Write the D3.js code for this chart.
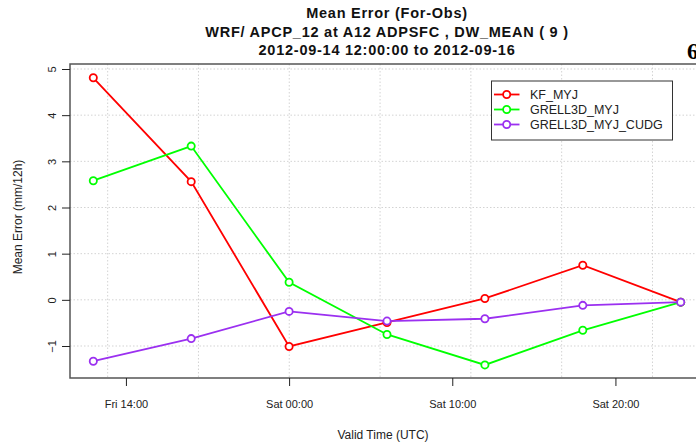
<!DOCTYPE html>
<html>
<head>
<meta charset="utf-8">
<script src="https://cdn.jsdelivr.net/npm/d3@7"></script>
<style>
  html, body { margin: 0; padding: 0; background: #fff; }
  svg { display: block; font-family: "Liberation Sans", Arial, sans-serif; }
</style>
</head>
<body>
<svg id="chart" width="696" height="443"></svg>
<script>
// Valid times (6-hourly, UTC) and mean error per model run
const validTimes = [
  "2012-09-14T12:00:00Z", "2012-09-14T18:00:00Z", "2012-09-15T00:00:00Z",
  "2012-09-15T06:00:00Z", "2012-09-15T12:00:00Z", "2012-09-15T18:00:00Z",
  "2012-09-16T00:00:00Z"
];
const kfMyj      = [4.81, 2.56, -1.01, -0.49, 0.03, 0.75, -0.05];
const grellMyj   = [2.58, 3.33, 0.38, -0.75, -1.41, -0.66, -0.05];
const grellCudg  = [-1.33, -0.84, -0.25, -0.46, -0.41, -0.12, -0.05];

const seriesNames  = ["KF_MYJ", "GRELL3D_MYJ", "GRELL3D_MYJ_CUDG"];
const seriesColors = ["#ff0000", "#00ff00", "#9b30f0"];

// Axis ticks
const xTickTimes = ["2012-09-14T14:00:00Z", "2012-09-15T00:00:00Z",
                    "2012-09-15T10:00:00Z", "2012-09-15T20:00:00Z"];
const yTickValues = [-1, 0, 1, 2, 3, 4, 5];

const titleLines = [
  "Mean Error (For-Obs)",
  "WRF/ APCP_12 at A12 ADPSFC ,  DW_MEAN ( 9 )",
  "2012-09-14 12:00:00 to 2012-09-16"
];

const svg = d3.select("#chart");
const times = validTimes.map(t => new Date(t));

const x = d3.scaleUtc().domain([times[0], times[times.length - 1]]).range([93.3, 680.7]);
const y = d3.scaleLinear().domain([-1, 5]).range([346, 69]);

const box = { left: 70, top: 64, right: 720, bottom: 378 };

// Dotted background grid: evenly spaced vertical rules, horizontal rules at y ticks
const hour = 3600 * 1000;
const gridStart = +times[0] + 0.88 * hour;
const gridStep = 5.565 * hour;
const gridX = d3.range(0, 8).map(k => new Date(gridStart + k * gridStep));
svg.append("g").selectAll("line").data(gridX).join("line")
  .attr("x1", d => x(d)).attr("x2", d => x(d))
  .attr("y1", box.top).attr("y2", box.bottom)
  .attr("stroke", "#d3d3d3").attr("stroke-width", 1)
  .attr("stroke-dasharray", "1.5,2");
svg.append("g").selectAll("line").data(yTickValues).join("line")
  .attr("x1", box.left).attr("x2", box.right)
  .attr("y1", d => y(d)).attr("y2", d => y(d))
  .attr("stroke", "#d3d3d3").attr("stroke-width", 1)
  .attr("stroke-dasharray", "1.5,2");

// Plot frame
svg.append("rect")
  .attr("x", box.left).attr("y", box.top)
  .attr("width", box.right - box.left).attr("height", box.bottom - box.top)
  .attr("fill", "none").attr("stroke", "#555").attr("stroke-width", 1.5);

// Axes
const yAxis = d3.axisLeft(y).tickValues(yTickValues).tickSize(8)
  .tickFormat(d3.format("d"));
const gy = svg.append("g").attr("transform", `translate(${box.left},0)`).call(yAxis);
gy.select(".domain").remove();
gy.selectAll(".tick line").attr("stroke", "#222");
gy.selectAll(".tick text")
  .attr("font-size", 11).attr("fill", "#222")
  .attr("font-family", "Liberation Sans, Arial, sans-serif")
  .attr("transform", "rotate(-90)")
  .attr("x", 0).attr("y", -18)
  .attr("dy", "0.35em")
  .attr("text-anchor", "middle");

const xAxis = d3.axisBottom(x).tickValues(xTickTimes.map(t => new Date(t)))
  .tickSize(8).tickPadding(14)
  .tickFormat(d3.utcFormat("%a %H:%M"));
const gx = svg.append("g").attr("transform", `translate(0,${box.bottom})`).call(xAxis);
gx.select(".domain").remove();
gx.selectAll(".tick line").attr("stroke", "#222");
gx.selectAll(".tick text")
  .attr("font-size", 11).attr("fill", "#222")
  .attr("font-family", "Liberation Sans, Arial, sans-serif");

// Axis titles
svg.append("text")
  .attr("x", 383).attr("y", 439)
  .attr("text-anchor", "middle").attr("font-size", 12).attr("fill", "#222")
  .text("Valid Time (UTC)");
svg.append("text")
  .attr("transform", "translate(22,217) rotate(-90)")
  .attr("text-anchor", "middle").attr("font-size", 12).attr("fill", "#222")
  .text("Mean Error (mm/12h)");

// Title block
const titleY = [18, 37, 55];
svg.append("g").selectAll("text").data(titleLines).join("text")
  .attr("x", 387).attr("y", (d, i) => titleY[i])
  .attr("text-anchor", "middle").attr("font-size", 14.5).attr("font-weight", "bold")
  .attr("letter-spacing", 0.75).attr("fill", "#111")
  .text(d => d);

// Heading continuing past the right edge
svg.append("text")
  .attr("x", 687).attr("y", 59)
  .attr("font-family", "Liberation Serif, DejaVu Serif, serif")
  .attr("font-weight", "bold").attr("font-size", 23).attr("fill", "#000")
  .text("6");

// Series lines and markers
const allSeries = [kfMyj, grellMyj, grellCudg];
const line = d3.line().x((d, i) => x(times[i])).y(d => y(d));
allSeries.forEach((vals, s) => {
  const g = svg.append("g");
  g.append("path").datum(vals)
    .attr("d", line).attr("fill", "none")
    .attr("stroke", seriesColors[s]).attr("stroke-width", 1.8);
  g.selectAll("circle").data(vals).join("circle")
    .attr("cx", (d, i) => x(times[i])).attr("cy", d => y(d))
    .attr("r", 3.6).attr("fill", "#fff")
    .attr("stroke", seriesColors[s]).attr("stroke-width", 1.8);
});

// Legend
const lg = svg.append("g");
lg.append("rect")
  .attr("x", 491.5).attr("y", 81).attr("width", 181).attr("height", 59)
  .attr("fill", "#fff").attr("stroke", "#333").attr("stroke-width", 1);
seriesNames.forEach((name, i) => {
  const ly = 94.5 + i * 15;
  lg.append("line")
    .attr("x1", 494).attr("x2", 519.5).attr("y1", ly).attr("y2", ly)
    .attr("stroke", seriesColors[i]).attr("stroke-width", 1.8);
  lg.append("circle")
    .attr("cx", 506.7).attr("cy", ly).attr("r", 3.6)
    .attr("fill", "#fff").attr("stroke", seriesColors[i]).attr("stroke-width", 1.8);
  lg.append("text")
    .attr("x", 530).attr("y", ly).attr("dy", "0.36em")
    .attr("font-size", 12.5).attr("fill", "#222")
    .text(name);
});
</script>
</body>
</html>
